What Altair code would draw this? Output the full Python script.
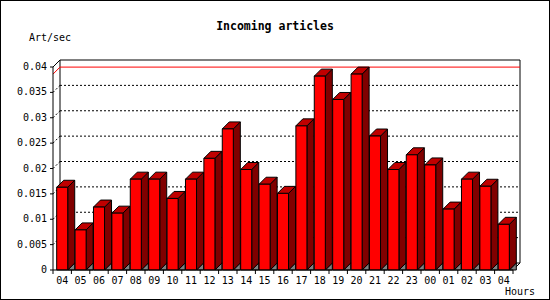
import altair as alt
import pandas as pd

# ---- data ----
hours = ["04", "05", "06", "07", "08", "09", "10", "11", "12", "13", "14", "15", "16",
         "17", "18", "19", "20", "21", "22", "23", "00", "01", "02", "03", "04"]
rates = [0.0163, 0.0079, 0.0124, 0.0112, 0.0179, 0.0179, 0.0141, 0.0179, 0.0220, 0.0278,
         0.0198, 0.0169, 0.0151, 0.0284, 0.0382, 0.0336, 0.0386, 0.0264, 0.0198, 0.0227,
         0.0207, 0.0120, 0.0179, 0.0165, 0.0090]
y_ticks = [0, 0.005, 0.01, 0.015, 0.02, 0.025, 0.03, 0.035, 0.04]
y_tick_labels = ["0", "0.005", "0.01", "0.015", "0.02", "0.025", "0.03", "0.035", "0.04"]
grid_vals = [0.005, 0.01, 0.015, 0.02, 0.025, 0.03, 0.035]

# ---- geometry ----
N = len(hours)
X0, X1 = 53, 513          # front x range (px)
Y0, Y1 = 270, 67          # front y range (px) for 0 .. 0.04
YMAX = 0.04
D = 7                     # 3D depth in px
PXX = (X1 - X0) / N
PXY = (Y0 - Y1) / YMAX
dxu = D / PXX
dyu = D / PXY
BAR = 0.6                 # bar width fraction of band

xs = alt.Scale(domain=[0, N], range=[X0, X1], nice=False, zero=False)
ys = alt.Scale(domain=[0, YMAX], range=[Y0, Y1], nice=False, zero=False)

FONT = "DejaVu Sans Mono"

bars = pd.DataFrame({"i": list(range(N)), "hour": hours, "v": rates})
bars["xl"] = bars["i"] + (1 - BAR) / 2
bars["xr"] = bars["xl"] + BAR
bars["xc"] = bars["i"] + 0.5
bars["zero"] = 0.0

side_rows, top_rows, shadow_rows = [], [], []
for i, v in enumerate(rates):
    xl = i + (1 - BAR) / 2
    xr = xl + BAR
    side_rows += [dict(b=i, x=xr, y=v, y2=0.0), dict(b=i, x=xr + dxu, y=v + dyu, y2=dyu)]
    top_rows += [dict(b=i, y=v, x=xl, x2=xr), dict(b=i, y=v + dyu, x=xl + dxu, x2=xr + dxu)]
    shadow_rows += [dict(b=i, x=xr, y=0.0, y2=0.0), dict(b=i, x=xr + dxu, y=dyu, y2=0.0)]
side = pd.DataFrame(side_rows)
top = pd.DataFrame(top_rows)
shadow = pd.DataFrame(shadow_rows)

vmax = max(rates)

frame = pd.DataFrame([dict(x=dxu, x2=N + dxu, y=dyu, y2=YMAX + dyu)])
grid = pd.DataFrame({"y": [g + dyu for g in grid_vals], "x": dxu, "x2": N + dxu})
slash_rows = []
for t in grid_vals:
    slash_rows += [dict(s=t, x=0.0, y=t), dict(s=t, x=dxu, y=t + dyu)]
slashes = pd.DataFrame(slash_rows)
edge_rows = [
    dict(s="tl", x=0.0, y=YMAX, c="black"), dict(s="tl", x=dxu, y=YMAX + dyu, c="black"),
    dict(s="br", x=float(N), y=0.0, c="black"), dict(s="br", x=N + dxu, y=dyu, c="black"),
    dict(s="mx", x=0.0, y=vmax, c="red"), dict(s="mx", x=dxu, y=vmax + dyu, c="red"),
]
edges = pd.DataFrame(edge_rows)
maxline = pd.DataFrame([dict(y=vmax + dyu, x=dxu, x2=N + dxu)])

# front axes
yaxis = pd.DataFrame({"v": y_ticks, "lab": y_tick_labels})
yaxis["x"] = 0.0
yaxis["xt"] = -3 / PXX
xaxis = pd.DataFrame({"x": [float(k) for k in range(N + 1)]})
xaxis["y"] = 0.0
xaxis["yt"] = -4 / PXY
ydom = pd.DataFrame([dict(x=0.0, y=0.0, y2=YMAX)])
xdom = pd.DataFrame([dict(x=0.0, x2=float(N), y=0.0)])

NOAX = None

def X(f):
    return alt.X(f, scale=xs, axis=NOAX)

def Y(f):
    return alt.Y(f, scale=ys, axis=NOAX, stack=None)

frame_l = alt.Chart(frame).mark_rect(fill="white", stroke="black", strokeWidth=1).encode(
    x=X("x:Q"), x2="x2:Q", y=Y("y:Q"), y2="y2:Q")

grid_l = alt.Chart(grid).mark_rule(color="black", strokeWidth=1, strokeDash=[2, 2]).encode(
    x=X("x:Q"), x2="x2:Q", y=Y("y:Q"))

slash_l = alt.Chart(slashes).mark_line(color="black", strokeWidth=1, strokeDash=[2, 2]).encode(
    x=X("x:Q"), y=Y("y:Q"), detail="s:N")

max_l = alt.Chart(maxline).mark_rule(color="red", strokeWidth=1).encode(
    x=X("x:Q"), x2="x2:Q", y=Y("y:Q"))

edge_l = alt.Chart(edges).mark_line(strokeWidth=1).encode(
    x=X("x:Q"), y=Y("y:Q"), detail="s:N", color=alt.Color("c:N", scale=None))

shadow_l = alt.Chart(shadow).mark_area(fill="#808080", stroke="black", strokeWidth=1,
                                       orient="vertical").encode(
    x=X("x:Q"), y=Y("y:Q"), y2="y2:Q", detail="b:N")

side_l = alt.Chart(side).mark_area(fill="#800000", stroke="black", strokeWidth=1,
                                   orient="vertical").encode(
    x=X("x:Q"), y=Y("y:Q"), y2="y2:Q", detail="b:N")

top_l = alt.Chart(top).mark_area(fill="#C00000", stroke="black", strokeWidth=1,
                                 orient="horizontal").encode(
    y=alt.Y("y:Q", scale=ys, axis=NOAX),
    x=alt.X("x:Q", scale=xs, axis=NOAX, stack=None), x2="x2:Q", detail="b:N")

front_l = alt.Chart(bars).mark_rect(fill="#FF0000", stroke="black", strokeWidth=1).encode(
    x=X("xl:Q"), x2="xr:Q", y=Y("v:Q"), y2="zero:Q")

ydom_l = alt.Chart(ydom).mark_rule(color="black", strokeWidth=1).encode(
    x=X("x:Q"), y=Y("y:Q"), y2="y2:Q")
xdom_l = alt.Chart(xdom).mark_rule(color="black", strokeWidth=1).encode(
    x=X("x:Q"), x2="x2:Q", y=Y("y:Q"))
ytick_l = alt.Chart(yaxis).mark_rule(color="black", strokeWidth=1).encode(
    x=X("xt:Q"), x2="x:Q", y=Y("v:Q"))
xtick_l = alt.Chart(xaxis).mark_rule(color="black", strokeWidth=1).encode(
    x=X("x:Q"), y=Y("y:Q"), y2="yt:Q")
ylabs_l = alt.Chart(yaxis).mark_text(font=FONT, fontSize=10, color="black",
                                     baseline="middle", align="right", dx=-6).encode(
    x=X("x:Q"), y=Y("v:Q"), text="lab:N")

xlab_l = alt.Chart(bars).mark_text(font=FONT, fontSize=10, color="black",
                                   baseline="middle", align="center").encode(
    x=X("xc:Q"), y=alt.value(281), text="hour:N")

title_l = alt.Chart(pd.DataFrame({"t": ["Incoming articles"]})).mark_text(
    font=FONT, fontSize=11.5, fontWeight="bold", color="black",
    baseline="middle", align="center").encode(
    x=alt.value(275), y=alt.value(27), text="t:N")

ylab_l = alt.Chart(pd.DataFrame({"t": ["Art/sec"]})).mark_text(
    font=FONT, fontSize=10, color="black", baseline="middle", align="left").encode(
    x=alt.value(29), y=alt.value(38), text="t:N")

hours_l = alt.Chart(pd.DataFrame({"t": ["Hours"]})).mark_text(
    font=FONT, fontSize=10, color="black", baseline="middle", align="right").encode(
    x=alt.value(535), y=alt.value(292), text="t:N")

chart = alt.layer(
    frame_l, grid_l, slash_l, max_l, edge_l,
    shadow_l, side_l, top_l, front_l,
    ydom_l, xdom_l, ytick_l, xtick_l, ylabs_l,
    xlab_l, title_l, ylab_l, hours_l,
).properties(
    width=550, height=300,
    autosize=alt.AutoSizeParams(type="none"),
    padding=0,
    background="white",
).configure_view(stroke="black", strokeWidth=2)

chart.save("out.html", embed_options={"renderer": "svg", "actions": False})
